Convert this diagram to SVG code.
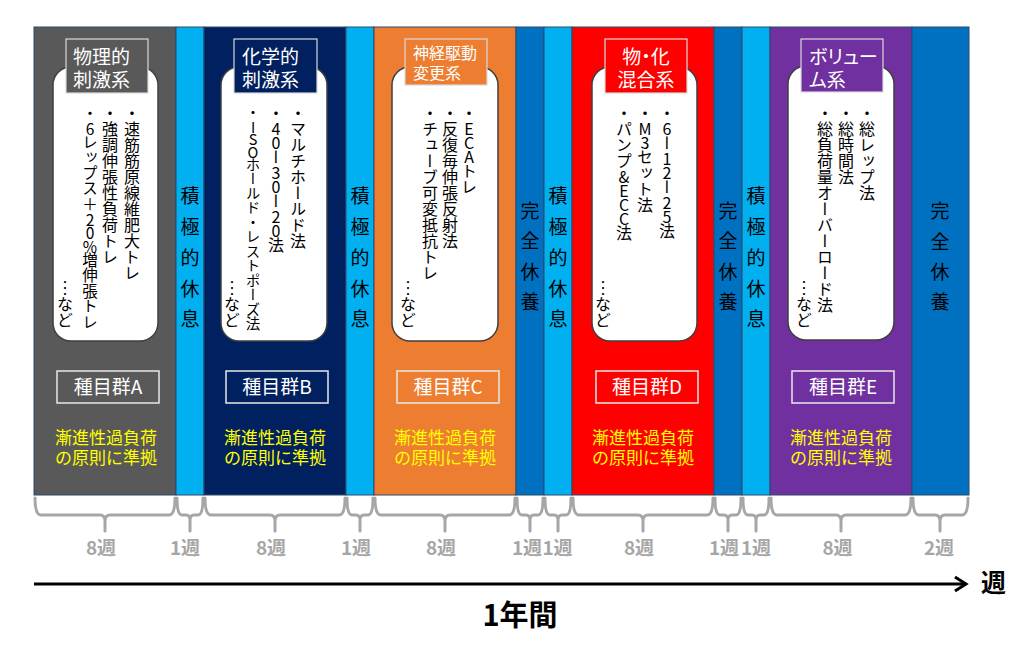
<svg xmlns="http://www.w3.org/2000/svg" width="1024" height="649" viewBox="0 0 1024 649">
<style>
text{font-family:"Noto Sans CJK JP","Noto Sans",sans-serif;}
.col{stroke:#2E4A6B;stroke-width:1;}
.wbox{fill:#FFFFFF;stroke:#3F3F3F;stroke-width:1.5;}
.lbl{stroke:#D9D9D9;stroke-width:1.2;}
.lt{fill:#FFFFFF;font-size:19px;font-feature-settings:"palt";}
.grp{fill:none;stroke:#E8E8E8;stroke-width:1.5;}
.gt{fill:#FFFFFF;font-size:19px;text-anchor:middle;}
.yt{fill:#FFFF00;font-size:17px;text-anchor:middle;}
.vt{writing-mode:vertical-rl;text-orientation:upright;font-size:16px;fill:#000000;}
.la{letter-spacing:-2px;}
.rt{font-size:19px;fill:#000000;text-anchor:middle;dominant-baseline:central;}
.brace{fill:none;stroke:#A6A6A6;stroke-width:3;stroke-linejoin:round;stroke-linecap:round;}
.wk{fill:#A6A6A6;font-size:19px;text-anchor:middle;font-weight:700;}
</style>
<rect width="1024" height="649" fill="#FFFFFF"/>

<g id="phase-a">
<rect class="col" x="34" y="27" width="142" height="468" fill="#595959"/>
<rect class="wbox" x="53" y="67" width="105" height="274" rx="18"/>
<rect class="lbl" x="66" y="39" width="82" height="54" fill="#595959"/>
<text class="lt" x="73" y="63.5">物理的</text>
<text class="lt" x="73" y="86.5">刺激系</text>
<text class="vt" x="132" y="105">・速筋筋原線維肥大トレ</text>
<text class="vt" x="110" y="105">・強調伸張性負荷トレ</text>
<text class="vt" x="90" y="105" style="font-size:15.5px">・<tspan class="la">6</tspan>レップス＋<tspan class="la">20%</tspan>増伸張トレ</text>
<text class="vt" x="65" y="280">…など</text>
<rect class="grp" x="57" y="371" width="102" height="32"/>
<text class="gt" x="108" y="394">種目群A</text>
<text class="yt" x="106" y="444">漸進性過負荷</text>
<text class="yt" x="106" y="464">の原則に準拠</text>
</g>

<g id="rest-1">
<rect class="col" x="176" y="27" width="28" height="468" fill="#00B0F0"/>
<text class="rt" x="190"><tspan x="190" y="194">積</tspan><tspan x="190" y="225">極</tspan><tspan x="190" y="256">的</tspan><tspan x="190" y="287">休</tspan><tspan x="190" y="317">息</tspan></text>
</g>

<g id="phase-b">
<rect class="col" x="204" y="27" width="142" height="468" fill="#002060"/>
<rect class="wbox" x="221" y="67" width="106" height="274" rx="18"/>
<rect class="lbl" x="234" y="39" width="83" height="54" fill="#002060"/>
<text class="lt" x="242" y="63.5">化学的</text>
<text class="lt" x="242" y="86.5">刺激系</text>
<text class="vt" x="298" y="105">・マルチホールド法</text>
<text class="vt" x="276" y="105">・<tspan class="la">40</tspan>ー<tspan class="la">30</tspan>ー<tspan class="la">20</tspan>法</text>
<text class="vt" x="253" y="105" style="font-size:14.5px">・<tspan class="la">ISO</tspan>ホールド・レストポーズ法</text>
<text class="vt" x="232" y="280">…など</text>
<rect class="grp" x="226" y="371" width="102" height="32"/>
<text class="gt" x="277" y="394">種目群B</text>
<text class="yt" x="275" y="444">漸進性過負荷</text>
<text class="yt" x="275" y="464">の原則に準拠</text>
</g>

<g id="rest-2">
<rect class="col" x="346" y="27" width="28" height="468" fill="#00B0F0"/>
<text class="rt" x="360"><tspan x="360" y="194">積</tspan><tspan x="360" y="225">極</tspan><tspan x="360" y="256">的</tspan><tspan x="360" y="287">休</tspan><tspan x="360" y="317">息</tspan></text>
</g>

<g id="phase-c">
<rect class="col" x="374" y="27" width="142" height="468" fill="#ED7D31"/>
<rect class="wbox" x="392" y="67" width="106" height="274" rx="18"/>
<rect class="lbl" x="405" y="39" width="82" height="46" fill="#ED7D31"/>
<text class="lt" x="413" y="59" style="font-size:16px">神経駆動</text>
<text class="lt" x="413" y="79" style="font-size:16px">変更系</text>
<text class="vt" x="469" y="105">・<tspan class="la">ECA</tspan>トレ</text>
<text class="vt" x="450" y="105">・反復毎伸張反射法</text>
<text class="vt" x="430" y="105">・チューブ可変抵抗トレ</text>
<text class="vt" x="408" y="280">…など</text>
<rect class="grp" x="397" y="371" width="102" height="32"/>
<text class="gt" x="448" y="394">種目群C</text>
<text class="yt" x="445" y="444">漸進性過負荷</text>
<text class="yt" x="445" y="464">の原則に準拠</text>
</g>

<g id="full-rest-1">
<rect class="col" x="516" y="27" width="28" height="468" fill="#0070C0"/>
<text class="rt" x="530"><tspan x="530" y="209">完</tspan><tspan x="530" y="239">全</tspan><tspan x="530" y="269.5">休</tspan><tspan x="530" y="300">養</tspan></text>
</g>

<g id="rest-3">
<rect class="col" x="544" y="27" width="28" height="468" fill="#00B0F0"/>
<text class="rt" x="558"><tspan x="558" y="194">積</tspan><tspan x="558" y="225">極</tspan><tspan x="558" y="256">的</tspan><tspan x="558" y="287">休</tspan><tspan x="558" y="317">息</tspan></text>
</g>

<g id="phase-d">
<rect class="col" x="572" y="27" width="142" height="468" fill="#FF0000"/>
<rect class="wbox" x="592" y="67" width="105" height="274" rx="18"/>
<rect class="lbl" x="605" y="39" width="82" height="54" fill="#FF0000"/>
<text class="lt" x="646" y="63.5" text-anchor="middle">物・化</text>
<text class="lt" x="646" y="86.5" text-anchor="middle">混合系</text>
<text class="vt" x="667" y="105">・<tspan class="la">6</tspan>ー<tspan class="la">12</tspan>ー<tspan class="la">25</tspan>法</text>
<text class="vt" x="645" y="105">・<tspan class="la">M3</tspan>セット法</text>
<text class="vt" x="624" y="105">・パンプ<tspan class="la">&amp;ECC</tspan>法</text>
<text class="vt" x="603" y="280">…など</text>
<rect class="grp" x="596" y="371" width="102" height="32"/>
<text class="gt" x="647" y="394">種目群D</text>
<text class="yt" x="643" y="444">漸進性過負荷</text>
<text class="yt" x="643" y="464">の原則に準拠</text>
</g>

<g id="full-rest-2">
<rect class="col" x="714" y="27" width="28" height="468" fill="#0070C0"/>
<text class="rt" x="728"><tspan x="728" y="209">完</tspan><tspan x="728" y="239">全</tspan><tspan x="728" y="269.5">休</tspan><tspan x="728" y="300">養</tspan></text>
</g>

<g id="rest-4">
<rect class="col" x="742" y="27" width="28" height="468" fill="#00B0F0"/>
<text class="rt" x="756"><tspan x="756" y="194">積</tspan><tspan x="756" y="225">極</tspan><tspan x="756" y="256">的</tspan><tspan x="756" y="287">休</tspan><tspan x="756" y="317">息</tspan></text>
</g>

<g id="phase-e">
<rect class="col" x="770" y="27" width="142" height="468" fill="#7030A0"/>
<rect class="wbox" x="788" y="66" width="106" height="274" rx="18"/>
<rect class="lbl" x="801" y="39" width="82" height="53" fill="#7030A0"/>
<text class="lt" x="809" y="63.5">ボリュー</text>
<text class="lt" x="809" y="86.5">ム系</text>
<text class="vt" x="867" y="105">・総レップ法</text>
<text class="vt" x="846" y="105">・総時間法</text>
<text class="vt" x="825" y="105">・総負荷量オーバーロード法</text>
<text class="vt" x="804" y="280">…など</text>
<rect class="grp" x="792" y="371" width="102" height="32"/>
<text class="gt" x="843" y="394">種目群E</text>
<text class="yt" x="841" y="444">漸進性過負荷</text>
<text class="yt" x="841" y="464">の原則に準拠</text>
</g>

<g id="full-rest-3">
<rect class="col" x="912" y="27" width="57" height="468" fill="#0070C0"/>
<text class="rt" x="940"><tspan x="940" y="209">完</tspan><tspan x="940" y="240">全</tspan><tspan x="940" y="270">休</tspan><tspan x="940" y="300">養</tspan></text>
</g>

<g id="connectors">
<g id="braces">
<path class="brace" d="M35 498 Q35 515 41 515 H100 Q105 515 105 521 V531 M105 521 Q105 515 110 515 H169 Q175 515 175 498"/>
<path class="brace" d="M177 498 Q177 515 182 515 H186 Q190 515 190 520 V531 M190 520 Q190 515 194 515 H198 Q203 515 203 498"/>
<path class="brace" d="M205 498 Q205 515 211 515 H270 Q275 515 275 521 V531 M275 521 Q275 515 280 515 H339 Q345 515 345 498"/>
<path class="brace" d="M347 498 Q347 515 352 515 H356 Q360 515 360 520 V531 M360 520 Q360 515 364 515 H368 Q373 515 373 498"/>
<path class="brace" d="M375 498 Q375 515 381 515 H440 Q445 515 445 521 V531 M445 521 Q445 515 450 515 H509 Q515 515 515 498"/>
<path class="brace" d="M517 498 Q517 515 522 515 H526 Q530 515 530 520 V531 M530 520 Q530 515 534 515 H538 Q543 515 543 498"/>
<path class="brace" d="M545 498 Q545 515 550 515 H554 Q558 515 558 520 V531 M558 520 Q558 515 562 515 H566 Q571 515 571 498"/>
<path class="brace" d="M573 498 Q573 515 579 515 H638 Q643 515 643 521 V531 M643 521 Q643 515 648 515 H707 Q713 515 713 498"/>
<path class="brace" d="M715 498 Q715 515 720 515 H724 Q728 515 728 520 V531 M728 520 Q728 515 732 515 H736 Q741 515 741 498"/>
<path class="brace" d="M743 498 Q743 515 748 515 H752 Q756 515 756 520 V531 M756 520 Q756 515 760 515 H764 Q769 515 769 498"/>
<path class="brace" d="M771 498 Q771 515 777 515 H836 Q841 515 841 521 V531 M841 521 Q841 515 846 515 H905 Q911 515 911 498"/>
<path class="brace" d="M913 498 Q913 515 919 515 H935 Q940 515 940 521 V531 M940 521 Q940 515 945 515 H962 Q968 515 968 498"/>
</g>
<g id="week-labels">
<text class="wk" x="101" y="555">8週</text>
<text class="wk" x="185" y="555">1週</text>
<text class="wk" x="271" y="555">8週</text>
<text class="wk" x="356" y="555">1週</text>
<text class="wk" x="441" y="555">8週</text>
<text class="wk" x="527" y="555">1週</text>
<text class="wk" x="557.5" y="555">1週</text>
<text class="wk" x="639" y="555">8週</text>
<text class="wk" x="724" y="555">1週</text>
<text class="wk" x="756" y="555">1週</text>
<text class="wk" x="837.5" y="555">8週</text>
<text class="wk" x="939" y="555">2週</text>
</g>
<g id="axis">
<line x1="34" y1="584" x2="965" y2="584" stroke="#000000" stroke-width="3"/>
<polyline points="955,577 966,584 955,591" fill="none" stroke="#000000" stroke-width="3" stroke-linejoin="miter"/>
<text x="981" y="592" style="font-size:25px;font-weight:700;fill:#000000">週</text>
<text x="520" y="626" text-anchor="middle" style="font-size:29px;font-weight:700;fill:#000000">1年間</text>
</g>
</g>
</svg>
